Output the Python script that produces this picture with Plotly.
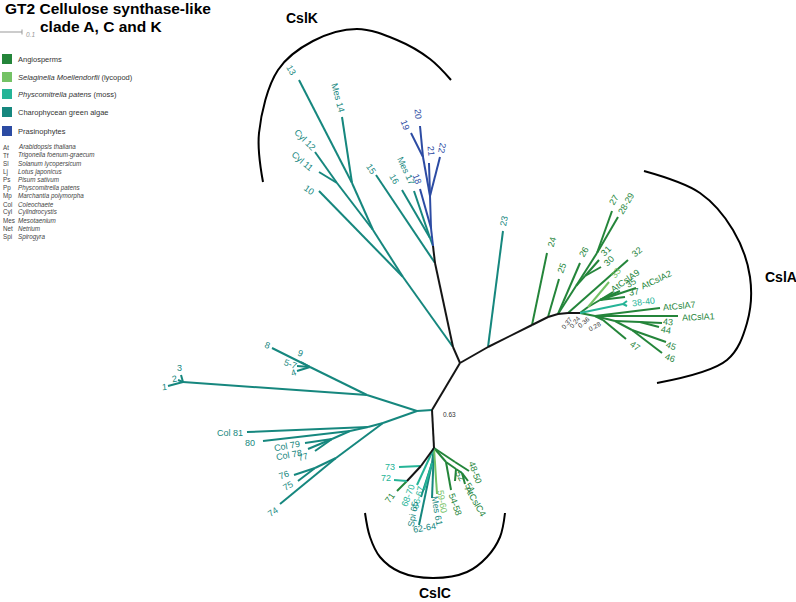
import plotly.graph_objects as go

# ---- tree layout (pixel space of the original figure, y grows downward) ----
node_xy = {
    # stems
    "J0": (460, 363), "Kroot": (453, 347), "K2": (435, 263), "K3": (433, 246),
    "a23": (488, 347), "a24": (532, 325), "a25": (548, 317), "a26": (558, 314),
    "am": (568, 313), "A0": (580, 313), "C0": (432, 410), "Cr": (434, 448),
    # CslK
    "nb": (403, 277), "na": (373, 230), "n1314": (352, 183), "n1112": (337, 183),
    "t13": (299, 80), "t14": (342, 117), "t12": (315, 152), "t11": (319, 172),
    "t10": (319, 191), "t15": (376, 175), "n1617": (430, 238), "t16": (402, 190),
    "t17": (414, 191), "b18": (431, 228), "t18": (420, 189), "b2122": (430, 196),
    "t21": (429, 163), "t22": (440, 157), "b1920": (423, 157), "t19": (411, 133),
    "t20": (420, 126),
    # CslA
    "t23": (503, 231), "t24": (547, 253), "t25": (559, 279), "t26": (580, 263),
    "n2731": (576, 286), "n2728": (597, 253), "t27": (612, 211), "t2829": (618, 217),
    "n3031": (585, 276), "t31": (599, 260), "t30": (601, 267), "t32": (628, 260),
    "nup": (588, 307), "t33": (609, 282), "nA9": (600, 300), "tA9": (613, 292),
    "t35": (620, 291), "tA2": (636, 288), "t37": (625, 297), "n3840": (623, 304),
    "t38": (627, 301), "t40": (627, 306), "nlow": (595, 316), "tA7": (660, 308),
    "tA1": (678, 316), "n4346": (615, 321), "n4344": (640, 322), "t43": (662, 323),
    "t44": (659, 327), "n4546": (632, 330), "t45": (666, 342), "t46": (662, 353),
    "n47": (603, 320), "t47": (626, 339),
    # charophyte cluster
    "L0": (417, 411), "Lu": (367, 395), "n123": (183, 382), "t1": (168, 386),
    "t2": (178, 380), "t3": (181, 375), "Lu2": (310, 367), "t8": (272, 348),
    "t9": (301, 362), "t57": (297, 366), "t4": (297, 371), "Ll": (383, 423),
    "n81": (368, 427), "t81": (247, 432), "n80": (350, 431), "t80": (263, 441),
    "n79": (332, 439), "t79": (305, 443), "t78": (308, 449), "t77": (315, 451),
    "n76": (336, 458), "n7576": (315, 468), "t76": (294, 475), "t75": (298, 481),
    "t74": (280, 504),
    # CslC
    "n73": (421, 466), "t73": (399, 467), "n72": (407, 481), "t72": (394, 480),
    "t71": (397, 491), "t6870": (417, 485), "nc1": (432, 463), "t6667": (424, 490),
    "t65": (421, 497), "t6264": (419, 525), "t61": (432, 498), "t5960": (437, 494),
    "ng": (446, 462), "t5458": (451, 490), "ng2": (456, 469), "t52": (455, 481),
    "ng3": (462, 473), "t51": (465, 484), "tC4": (468, 481), "n4850": (455, 462),
    "t4850": (469, 471),
}

edges_black = [("J0", "Kroot"), ("Kroot", "K2"), ("K2", "K3"), ("J0", "a23"),
               ("a23", "a24"), ("a24", "a25"), ("a25", "a26"), ("a26", "am"),
               ("am", "A0"), ("J0", "C0"), ("C0", "Cr"), ("Cr", "n73"), ("n73", "n72")]
edges_teal = [("Kroot", "nb"), ("nb", "na"), ("na", "n1314"), ("n1314", "t13"),
              ("n1314", "t14"), ("na", "n1112"), ("n1112", "t12"), ("n1112", "t11"),
              ("nb", "t10"), ("K2", "t15"), ("K3", "n1617"), ("n1617", "t16"),
              ("n1617", "t17"), ("a23", "t23"), ("C0", "L0"), ("L0", "Lu"),
              ("Lu", "n123"), ("n123", "t1"), ("n123", "t2"), ("n123", "t3"),
              ("Lu", "Lu2"), ("Lu2", "t8"), ("Lu2", "t9"), ("Lu2", "t57"), ("Lu2", "t4"),
              ("L0", "Ll"), ("Ll", "n81"), ("n81", "t81"), ("n81", "n80"), ("n80", "t80"),
              ("n80", "n79"), ("n79", "t79"), ("n79", "t78"), ("n79", "t77"),
              ("Ll", "n76"), ("n76", "t74"), ("n76", "n7576"), ("n7576", "t76"),
              ("n7576", "t75"), ("Cr", "nc1"), ("nc1", "t65"), ("nc1", "t6264"),
              ("Cr", "t61")]
edges_blue = [("K3", "b18"), ("b18", "t18"), ("b18", "b2122"), ("b2122", "t21"),
              ("b2122", "t22"), ("b2122", "b1920"), ("b1920", "t19"), ("b1920", "t20")]
edges_green = [("a24", "t24"), ("a25", "t25"), ("a26", "t26"), ("a26", "n2731"),
               ("n2731", "n2728"), ("n2728", "t27"), ("n2728", "t2829"),
               ("n2731", "n3031"), ("n3031", "t31"), ("n3031", "t30"), ("am", "t32"),
               ("A0", "nup"), ("nup", "nA9"), ("nA9", "tA9"), ("nA9", "t35"),
               ("nA9", "tA2"), ("nA9", "t37"), ("A0", "nlow"), ("nlow", "tA7"),
               ("nlow", "tA1"), ("nlow", "n4346"), ("n4346", "n4344"), ("n4344", "t43"),
               ("n4344", "t44"), ("n4346", "n4546"), ("n4546", "t45"), ("n4546", "t46"),
               ("nlow", "n47"), ("n47", "t47"), ("n72", "t71"), ("Cr", "ng"),
               ("ng", "t5458"), ("ng", "ng2"), ("ng2", "t52"), ("ng2", "ng3"),
               ("ng3", "t51"), ("ng3", "tC4"), ("Cr", "n4850"), ("n4850", "t4850")]
edges_light = [("nup", "t33"), ("Cr", "t5960")]
edges_moss = [("A0", "n3840"), ("n3840", "t38"), ("n3840", "t40"), ("n73", "t73"),
              ("n72", "t72"), ("Cr", "t6870"), ("nc1", "t6667")]

# tip labels: text, x, y, angle, group
tip_labels = [
    ("13", 291, 70, 60, "teal"), ("Mes 14", 338, 98, 75, "teal"),
    ("Cyl 12", 305, 140, 45, "teal"), ("Cyl 11", 302, 161, 40, "teal"),
    ("10", 309, 190, 35, "teal"), ("15", 371, 169, 55, "teal"),
    ("16", 394, 179, 60, "teal"), ("Mes 17", 406, 171, 65, "teal"),
    ("18", 417, 179, 70, "blue"), ("19", 405, 125, 70, "blue"),
    ("20", 418, 114, 85, "blue"), ("21", 431, 151, 85, "blue"),
    ("22", 442, 148, 100, "blue"), ("23", 504, 221, -80, "teal"),
    ("24", 552, 242, -75, "green"), ("25", 562, 268, -70, "green"),
    ("26", 584, 252, -60, "green"), ("27", 614, 200, -60, "green"),
    ("28-29", 626, 204, -60, "green"), ("31", 606, 251, -45, "green"),
    ("30", 609, 261, -45, "green"), ("32", 637, 252, -40, "green"),
    ("33", 616, 273, -55, "light"), ("AtCslA9", 625, 281, -35, "green"),
    ("35", 631, 283, -30, "green"), ("AtCslA2", 656, 280, -25, "green"),
    ("37", 634, 292, -10, "green"), ("38-40", 643, 302, -8, "moss"),
    ("AtCslA7", 679, 306, -5, "green"), ("AtCslA1", 698, 317, -3, "green"),
    ("43", 668, 322, 5, "green"), ("44", 666, 330, 10, "green"),
    ("45", 671, 346, 20, "green"), ("46", 670, 358, 20, "green"),
    ("47", 635, 346, 35, "green"),
    ("1", 164, 387, -5, "teal"), ("2", 174, 379, -10, "teal"), ("3", 179, 368, 0, "teal"),
    ("8", 267, 345, 20, "teal"), ("9", 300, 353, 20, "teal"), ("5-7", 290, 364, 20, "teal"),
    ("4", 293, 373, -20, "teal"), ("Col 81", 230, 433, 0, "teal"), ("80", 250, 443, 0, "teal"),
    ("Col 79", 287, 446, -10, "teal"), ("Col 78", 289, 455, -10, "teal"),
    ("77", 303, 457, -15, "teal"), ("76", 284, 475, -20, "teal"),
    ("75", 288, 486, -30, "teal"), ("74", 273, 512, -35, "teal"),
    ("73", 390, 467, 0, "moss"), ("72", 386, 478, 0, "moss"), ("71", 390, 498, -55, "green"),
    ("68-70", 408, 496, -70, "moss"), ("66-67", 418, 498, -75, "moss"),
    ("Spi 65", 413, 514, -80, "teal"), ("62-64", 424, 528, -10, "teal"),
    ("Mes 61", 437, 511, 80, "teal"), ("59-60", 442, 501, 80, "light"),
    ("54-58", 455, 504, 70, "green"), ("52", 460, 476, 60, "green"),
    ("51", 470, 488, 55, "green"), ("AtCslC4", 475, 501, 60, "green"),
    ("48-50", 475, 472, 70, "green"),
]

support_text = ["0.37", "0.24", "0.36", "0.28", "0.63"]
support_pos = [(566, 323, -50), (574, 322, -50), (583, 322, -40), (594, 326, -30), (441, 414, 0)]

clade_names = ["CslK", "CslA", "CslC"]
clade_label_pos = [(302, 18), (781, 277), (435, 593)]
arc_k = [(263, 182), (259, 133), (278, 70), (313, 41), (357, 29), (397, 40), (430, 59), (451, 80)]
arc_a = [(644, 171), (700, 193), (733, 230), (750, 277), (747, 323), (727, 360), (657, 383)]
arc_c = [(365, 513), (370, 537), (380, 557), (400, 572), (433, 578), (467, 572), (487, 557), (500, 537), (505, 513)]

legend_groups = ["Angiosperms", "<i>Selaginella Moellendorfii</i> (lycopod)",
                 "<i>Physcomitrella patens</i> (moss)", "Charophycean green algae", "Prasinophytes"]
legend_keys = ["green", "light", "moss", "teal", "blue"]
abbrev = ["At", "Tf", "Sl", "Lj", "Ps", "Pp", "Mp", "Col", "Cyl", "Mes", "Net", "Spi"]
species = ["Arabidopsis thaliana", "Trigonella foenum-graecum", "Solanum lycopersicum",
           "Lotus japonicus", "Pisum sativum", "Physcomitrella patens", "Marchantia polymorpha",
           "Coleochaete", "Cylindrocystis", "Mesotaenium", "Netrium", "Spirogyra"]

colors = {"black": "#151515", "teal": "#16877e", "blue": "#2c4ba3", "green": "#24853a",
          "light": "#74c265", "moss": "#25b497"}
FONT = "Liberation Sans, Arial, Helvetica, sans-serif"

fig = go.Figure()


def seg_xy(edges):
    xs, ys = [], []
    for p, c in edges:
        (x0, y0), (x1, y1) = node_xy[p], node_xy[c]
        xs += [x0, x1, None]
        ys += [y0, y1, None]
    return xs, ys


for key, edges in [("teal", edges_teal), ("blue", edges_blue), ("green", edges_green),
                   ("light", edges_light), ("moss", edges_moss), ("black", edges_black)]:
    xs, ys = seg_xy(edges)
    fig.add_trace(go.Scatter(x=xs, y=ys, mode="lines", hoverinfo="skip", showlegend=False,
                             line=dict(color=colors[key], width=2)))

# clade brackets
for pts in (arc_k, arc_a, arc_c):
    fig.add_trace(go.Scatter(x=[p[0] for p in pts], y=[p[1] for p in pts], mode="lines",
                             hoverinfo="skip", showlegend=False,
                             line=dict(color="black", width=2, shape="spline", smoothing=1.0)))

ann = []
for text, x, y, ang, key in tip_labels:
    ann.append(dict(x=x, y=y, text=text, textangle=ang, showarrow=False,
                    font=dict(size=9, color=colors[key], family=FONT)))
for t, (x, y, ang) in zip(support_text, support_pos):
    ann.append(dict(x=x, y=y, text=t, textangle=ang, showarrow=False, xanchor="left" if t == "0.63" else "center",
                    font=dict(size=6.5, color="#333333", family=FONT)))
for name, (x, y) in zip(clade_names, clade_label_pos):
    ann.append(dict(x=x, y=y, text="<b>%s</b>" % name, showarrow=False,
                    font=dict(size=14, color="black", family=FONT)))

# title and scale bar
ann.append(dict(x=108, y=8, text="<b>GT2 Cellulose synthase-like</b>", showarrow=False,
                font=dict(size=15.5, color="black", family=FONT)))
ann.append(dict(x=101, y=26, text="<b>clade A, C and K</b>", showarrow=False,
                font=dict(size=15.5, color="black", family=FONT)))
fig.add_trace(go.Scatter(x=[0, 22, None, 22, 22], y=[32, 32, None, 29.5, 34.5], mode="lines",
                         hoverinfo="skip", showlegend=False, line=dict(color="#999999", width=1)))
ann.append(dict(x=24, y=34, text="<i>0.1</i>", showarrow=False, xanchor="left",
                font=dict(size=6.5, color="#999999", family=FONT)))

# legend
legend_y = [59, 77, 94, 112, 131]
fig.add_trace(go.Scatter(x=[7] * len(legend_y), y=legend_y, mode="markers", hoverinfo="skip",
                         showlegend=False,
                         marker=dict(symbol="square", size=10, color=[colors[k] for k in legend_keys])))
for t, y in zip(legend_groups, legend_y):
    ann.append(dict(x=16, y=y, text=t, showarrow=False, xanchor="left",
                    font=dict(size=7.5, color="#333333", family=FONT)))
for i, (a, s) in enumerate(zip(abbrev, species)):
    y = 147.3 + i * 8.13
    ann.append(dict(x=1, y=y, text=a, showarrow=False, xanchor="left",
                    font=dict(size=6.3, color="#444444", family=FONT)))
    ann.append(dict(x=16, y=y, text="<i>%s</i>" % s, showarrow=False, xanchor="left",
                    font=dict(size=6.3, color="#444444", family=FONT)))

fig.update_layout(
    width=796, height=602, margin=dict(l=0, r=0, t=0, b=0),
    paper_bgcolor="white", plot_bgcolor="white", annotations=ann,
    xaxis=dict(range=[0, 796], visible=False, fixedrange=True),
    yaxis=dict(range=[602, 0], visible=False, fixedrange=True),
)
fig.write_html("out.html", config={"displayModeBar": False},
               post_script="document.body.style.margin='0';document.body.style.overflow='hidden';")
